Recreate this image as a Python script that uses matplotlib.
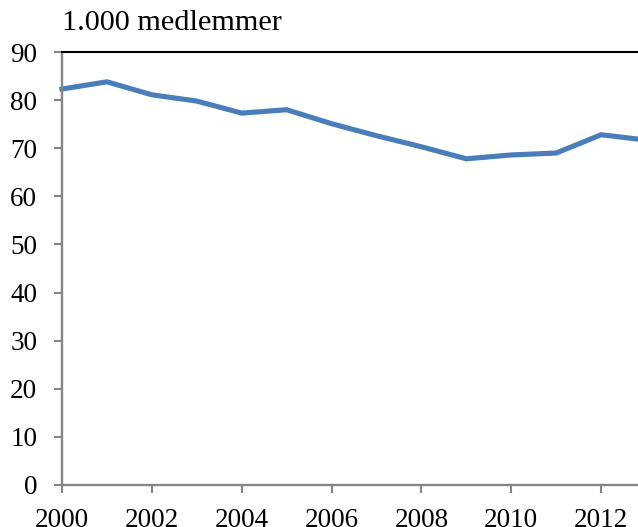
import matplotlib
matplotlib.use('Agg')
import matplotlib.pyplot as plt

years = [2000, 2001, 2002, 2003, 2004, 2005, 2006, 2007, 2008, 2009, 2010, 2011, 2012, 2013]
members = [82.3, 83.8, 81.1, 79.8, 77.3, 78.0, 75.1, 72.6, 70.3, 67.8, 68.6, 69.0, 72.8, 71.7]
yticks = [0, 10, 20, 30, 40, 50, 60, 70, 80, 90]
xticks = [2000, 2002, 2004, 2006, 2008, 2010, 2012]

plt.rcParams['font.family'] = ['Liberation Serif', 'DejaVu Serif']

W, H = 638, 527
fig = plt.figure(figsize=(W / 100, H / 100), dpi=100)
ax = fig.add_axes([62 / W, (H - 485) / H, 584 / W, 433 / H])

ax.plot(years, members, color='#4A7EBB', lw=3.7, solid_joinstyle='miter', clip_on=False)

ax.set_xlim(2000, 2013)
ax.set_ylim(0, 90)
ax.set_xticks(xticks)
ax.set_yticks(yticks)
ax.tick_params(axis='both', labelsize=19.5, color='#868686', length=5.8, width=1.5, direction='out')
ax.tick_params(axis='x', pad=10.5)
ax.tick_params(axis='y', pad=12)

for s in ['left', 'bottom']:
    ax.spines[s].set_color('#868686')
    ax.spines[s].set_linewidth(1.7)
ax.spines['top'].set_color('black')
ax.spines['top'].set_linewidth(1.5)
ax.spines['right'].set_visible(False)

fig.text(62 / W, 1 - 23 / H, '1.000 medlemmer', fontsize=21.8, va='center', ha='left')

fig.savefig('out.png', dpi=100)
